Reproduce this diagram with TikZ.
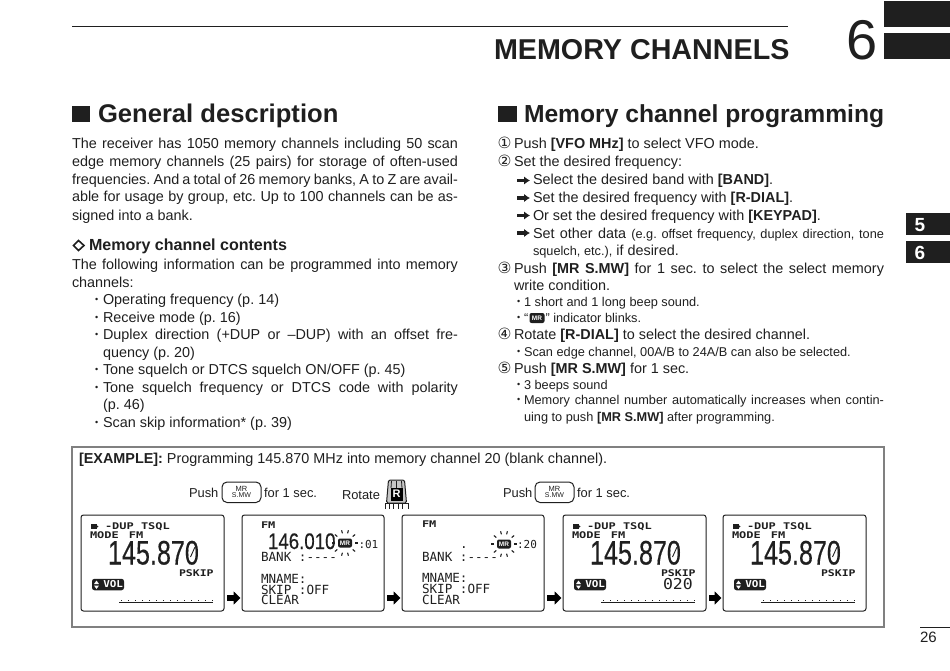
\documentclass[tikz,border=0pt]{standalone}
\usepackage{graphicx}
\usepackage{fontspec}
\setmainfont{Liberation Sans}
\newfontfamily\lcdfont{DejaVu Sans Mono}
\newfontfamily\symfont{DejaVu Sans}
\newfontfamily\lcdnum[FakeBold=0.4]{Liberation Sans}
\usetikzlibrary{arrows.meta}
\definecolor{ink}{gray}{0.12}
\newcommand{\fs}[1]{\fontsize{#1}{#1}\selectfont}
\newcommand{\jl}[2]{\makebox[#1pt][s]{#2}}
\newcommand{\blt}[1]{\makebox[#1pt][l]{\raisebox{1.2pt}{\fs{9}•}}}
\newcommand{\lcdsm}[1]{\scalebox{1.3}[1]{\lcdfont\bfseries\fs{9.2}#1}}
\frenchspacing
\tikzset{
  every node/.style={inner sep=0pt,outer sep=0pt,text=ink},
  bodytxt/.style={anchor=base west,font=\frenchspacing\fs{14.4}},
  smalltxt/.style={anchor=base west,font=\frenchspacing\fs{12.75}},
  headtxt/.style={anchor=base west,font=\fs{25.6}\bfseries},
  keytxt/.style={anchor=base west,font=\fs{12.9}},
  numtxt/.style={anchor=base west,font=\symfont\fs{15.5}},
  lcdbox/.style={draw=ink,line width=1pt,rounded corners=2.5pt,anchor=north west,minimum width=143pt,minimum height=96pt},
  lcdsmall/.style={anchor=base west},
  lcdwide/.style={anchor=base west,font=\lcdfont\fs{12.6}},
  keybox/.style={draw=ink,line width=1pt,rounded corners=5pt,anchor=north west,minimum width=39pt,minimum height=20.5pt},
  mrbadge/.style={fill=ink,text=white,rounded corners=2pt,minimum width=14pt,minimum height=9pt,font=\bfseries\fs{6.5}},
  tabbox/.style={fill=ink,anchor=north west},
  steparrow/.style={-{Latex[length=6pt,width=8.5pt]},line width=3.2pt,color=ink},
  lcdarrow/.style={-{Triangle[length=7pt,width=13pt]},line width=5.5pt,color=black,shorten >=1.5pt,shorten <=3pt},
}
% blinking MR indicator
\newcommand{\mrblink}[3]{
  \node (#1) at (#2,#3) [mrbadge] {MR};
  \foreach \a in {0,40,75,105,140,180,220,255,285,320}
    \draw[ink,line width=1.1pt] (#2,#3) ++(\a:10) -- ++(\a:3.2);
}
% main frequency display
\newcommand{\lcdmain}[2]{
\begin{scope}[shift={(#2,515)}]
\node (#1) at (0,0) [lcdbox] {};
\fill[ink] (10,9) rectangle (15.5,14);
\fill[ink] (15.5,10)--(17.5,11.5)--(15.5,13)--cycle;
\node (#1dup) at (24,14) [lcdsmall] {\lcdsm{-DUP TSQL}};
\node (#1mode) at (9,23) [lcdsmall] {\lcdsm{MODE\hspace{2.2pt} FM}};
\node (#1freq) at (27,49.5) [anchor=base west] {\scalebox{.74}[1]{\lcdnum\fs{34}145.870}};
\draw[ink,line width=.9pt] (109.5,42)--(114,32);
\node (#1skip) at (98,61) [lcdsmall] {\scalebox{1.25}[1]{\lcdfont\bfseries\fs{9.2}PSKIP}};
\node (#1vol) at (27,69.5) [fill=ink,text=white,rounded corners=2.5pt,minimum width=32pt,minimum height=11.5pt,text width=30pt,align=right] {\scalebox{1.15}[1]{\lcdfont\bfseries\fs{9.5}VOL}};
\fill[white] (13,69)--(15.5,65.5)--(18,69)--cycle;
\fill[white] (13,70.5)--(15.5,74)--(18,70.5)--cycle;
\draw[ink,line width=1pt] (38,87)--(132,87);
\draw[ink,line width=1.2pt,dash pattern=on 1.2pt off 5.8pt] (40,85.5)--(132,85.5);
\end{scope}
}
\begin{document}
\begin{tikzpicture}[x=1pt,y=-1pt,>=latex]
\useasboundingbox (0,0) rectangle (950,671);
%header
\draw[ink,line width=1pt] (72,27)--(788,27);
\node (title) at (494,60) [anchor=base west,font=\fs{28.7}\bfseries] {MEMORY CHANNELS};
\node (chap) at (846,60) [anchor=base west,font=\fs{56}] {6};
\node (tabA) at (884,1) [tabbox,minimum width=66pt,minimum height=26pt] {};
\node (tabB) at (884,33) [tabbox,minimum width=66pt,minimum height=26pt] {};
\node (sideA) at (906,213) [tabbox,minimum width=44pt,minimum height=22pt] {};
\node (sideB) at (906,241) [tabbox,minimum width=44pt,minimum height=22pt] {};
\node (sideAt) at (920,231) [anchor=base,font=\fs{19}\bfseries,text=white] {5};
\node (sideBt) at (920,259) [anchor=base,font=\fs{19}\bfseries,text=white] {6};
%left column
\fill[ink] (72,106) rectangle (90,122);
\node (headA) at (98,123) [headtxt] {General description};
\node (gdA) at (72,149) [bodytxt] {\jl{386}{The receiver has 1050 memory channels including 50 scan}};
\node (gdB) at (72,167) [bodytxt] {\jl{386}{edge memory channels (25 pairs) for storage of often-used}};
\node (gdC) at (72,184.5) [bodytxt] {\jl{386}{frequencies. And a total of 26 memory banks, A to Z are avail-}};
\node (gdD) at (72,202) [bodytxt] {\jl{386}{able for usage by group, etc. Up to 100 channels can be as-}};
\node (gdE) at (72,220) [bodytxt] {signed into a bank.};
\draw[ink,line width=1.6pt] (78.5,240.5)--(84,245.5)--(78.5,250.5)--(73.5,245.5)--cycle;
\node (subB) at (89,251) [anchor=base west,font=\fs{16.05}\bfseries] {Memory channel contents};
\node (ctA) at (72,269) [bodytxt] {\jl{386}{The following information can be programmed into memory}};
\node (ctB) at (72,287) [bodytxt] {channels:};
\node (ctC) at (95,304) [bodytxt] {\blt{8}Operating frequency (p. 14)};
\node (ctD) at (95,322) [bodytxt] {\blt{8}Receive mode (p. 16)};
\node (ctE) at (95,339) [bodytxt] {\blt{8}\jl{355}{Duplex direction (+DUP or –DUP) with an offset fre-}};
\node (ctF) at (103,357) [bodytxt] {quency (p. 20)};
\node (ctG) at (95,374) [bodytxt] {\blt{8}Tone squelch or DTCS squelch ON/OFF (p. 45)};
\node (ctH) at (95,392) [bodytxt] {\blt{8}\jl{355}{Tone squelch frequency or DTCS code with polarity}};
\node (ctI) at (103,409) [bodytxt] {(p. 46)};
\node (ctJ) at (95,427) [bodytxt] {\blt{8}Scan skip information* (p. 39)};
%right column
\fill[ink] (498,106) rectangle (517,122);
\node (headB) at (524,123) [headtxt,font=\fs{24.65}\bfseries] {Memory channel programming};
\node (numA) at (497.5,149) [numtxt] {①};
\node (prA) at (514,149) [bodytxt] {Push \textbf{[VFO MHz]} to select VFO mode.};
\node (numB) at (497.5,167) [numtxt] {②};
\node (prB) at (514,167) [bodytxt] {Set the desired frequency:};
\coordinate (arrAs) at (517,180.5); \coordinate (arrAe) at (530,180.5);
\coordinate (arrBs) at (517,198); \coordinate (arrBe) at (530,198);
\coordinate (arrCs) at (517,215.5); \coordinate (arrCe) at (530,215.5);
\coordinate (arrDs) at (517,233); \coordinate (arrDe) at (530,233);
\draw[steparrow] (arrAs)--(arrAe);
\draw[steparrow] (arrBs)--(arrBe);
\draw[steparrow] (arrCs)--(arrCe);
\draw[steparrow] (arrDs)--(arrDe);
\node (prC) at (533,185) [bodytxt] {Select the desired band with \textbf{[BAND]}.};
\node (prD) at (533,202.5) [bodytxt] {Set the desired frequency with \textbf{[R-DIAL]}.};
\node (prE) at (533,220) [bodytxt] {Or set the desired frequency with \textbf{[KEYPAD]}.};
\node (prF) at (533,238) [bodytxt] {\jl{351}{Set other data {\fs{12.75}(e.g. offset frequency, duplex direction, tone}}};
\node (prG) at (533,255) [bodytxt] {{\fs{12.75}squelch, etc.),} if desired.};
\node (numC) at (497.5,273) [numtxt] {③};
\node (prH) at (514,273) [bodytxt] {\jl{370}{Push \textbf{[MR S.MW]} for 1 sec. to select the select memory}};
\node (prI) at (514,290) [bodytxt] {write condition.};
\node (prJ) at (517,306) [smalltxt] {\blt{7}1 short and 1 long beep sound.};
\node (prK) at (517,322) [smalltxt] {\blt{7}“};
\node (prKb) at (537,318) [mrbadge,minimum width=15pt,minimum height=10pt] {MR};
\node (prKc) at (545.5,322) [smalltxt] {” indicator blinks.};
\node (numD) at (497.5,339) [numtxt] {④};
\node (prL) at (514,339) [bodytxt] {Rotate \textbf{[R-DIAL]} to select the desired channel.};
\node (prM) at (517,356) [smalltxt] {\blt{7}Scan edge channel, 00A/B to 24A/B can also be selected.};
\node (numE) at (497.5,373) [numtxt] {⑤};
\node (prN) at (514,373) [bodytxt] {Push \textbf{[MR S.MW]} for 1 sec.};
\node (prO) at (517,389) [smalltxt] {\blt{7}3 beeps sound};
\node (prP) at (517,404) [smalltxt] {\blt{7}\jl{360}{Memory channel number automatically increases when contin-}};
\node (prQ) at (524,421) [smalltxt] {uing to push \textbf{[MR S.MW]} after programming.};
%example box
\draw[gray,line width=1.3pt] (72,447) rectangle (884,627);
\node (exA) at (79,463) [bodytxt] {\textbf{[EXAMPLE]:} Programming 145.870 MHz into memory channel 20 (blank channel).};
\node (pushA) at (189,497) [keytxt] {Push};
\node (keyA) at (222,482) [keybox] {};
\node (keyAa) at (241.5,489) [font=\fs{7.5}] {MR};
\node (keyAb) at (241.5,495.5) [font=\fs{7}] {S.MW};
\node (forA) at (264,497) [keytxt] {for 1 sec.};
\node (rot) at (342,499) [keytxt] {Rotate};
\filldraw[ink,fill=gray!45,line width=1pt,rounded corners=1.5pt] (386.5,503)--(388.5,480)--(404.5,480)--(406.5,503)--cycle;
\draw[ink,line width=.8pt] (391.5,481)--(391,488) (396.5,481)--(396.5,488) (401.5,481)--(402,488);
\draw[ink,line width=1pt] (385,503)--(408,503)--(408,509) (385,509)--(385,503);
\draw[ink,line width=.8pt] (389,503)--(389,509) (393.5,503)--(393.5,509) (398,503)--(398,509) (402.5,503)--(402.5,509);
\node (knob) at (396.5,494) [fill=black,text=white,minimum width=12pt,minimum height=13pt,font=\bfseries\fs{11}] {R};
\node (pushB) at (503,497) [keytxt] {Push};
\node (keyB) at (535,482) [keybox] {};
\node (keyBa) at (554.5,489) [font=\fs{7.5}] {MR};
\node (keyBb) at (554.5,495.5) [font=\fs{7}] {S.MW};
\node (forB) at (577,497) [keytxt] {for 1 sec.};
%displays
\lcdmain{lcdA}{81}
\node (lcdB) at (242,515) [lcdbox,minimum width=142pt] {};
\node (lcdBa) at (261,528) [lcdsmall] {\lcdsm{FM}};
\node (lcdBb) at (268,549) [anchor=base west] {\scalebox{.83}[1]{\lcdnum\fs{22.5}146.010}};
\node (lcdBm) at (345,543) [fill=white,minimum width=14pt,minimum height=17pt] {};
\mrblink{lcdBr}{345}{543}
\node (lcdBc) at (358.5,548) [anchor=base west,font=\lcdfont\fs{11}] {:01};
\node (lcdBd) at (261,561) [lcdwide] {BANK :----};
\node (lcdBe) at (261,583) [lcdwide] {MNAME:};
\node (lcdBf) at (261,594) [lcdwide] {SKIP :OFF};
\node (lcdBg) at (261,604) [lcdwide] {CLEAR};
\node (lcdC) at (402,515) [lcdbox,minimum width=142pt] {};
\node (lcdCa) at (422,527) [lcdsmall] {\lcdsm{FM}};
\node (lcdCb) at (460,548) [lcdwide] {.};
\mrblink{lcdCr}{504}{544}
\node (lcdCc) at (517,548) [anchor=base west,font=\lcdfont\fs{11}] {:20};
\node (lcdCd) at (422,561) [lcdwide] {BANK :----};
\node (lcdCe) at (422,582) [lcdwide] {MNAME:};
\node (lcdCf) at (422,593) [lcdwide] {SKIP :OFF};
\node (lcdCg) at (422,604) [lcdwide] {CLEAR};
\lcdmain{lcdD}{563}
\node (lcdDa) at (663,589) [anchor=base west] {\scalebox{1.1}[1]{\lcdfont\fs{15}020}};
\lcdmain{lcdE}{723}
\coordinate (arrY) at (0,598);
\draw[lcdarrow] (lcdA.east|-arrY)--(lcdB.west|-arrY);
\draw[lcdarrow] (lcdB.east|-arrY)--(lcdC.west|-arrY);
\draw[lcdarrow] (lcdC.east|-arrY)--(lcdD.west|-arrY);
\draw[lcdarrow] (lcdD.east|-arrY)--(lcdE.west|-arrY);
%page number
\draw[ink,line width=1pt] (920,627)--(950,627);
\node (page) at (920,642) [anchor=base west,font=\fs{15}] {26};
\end{tikzpicture}
\end{document}
